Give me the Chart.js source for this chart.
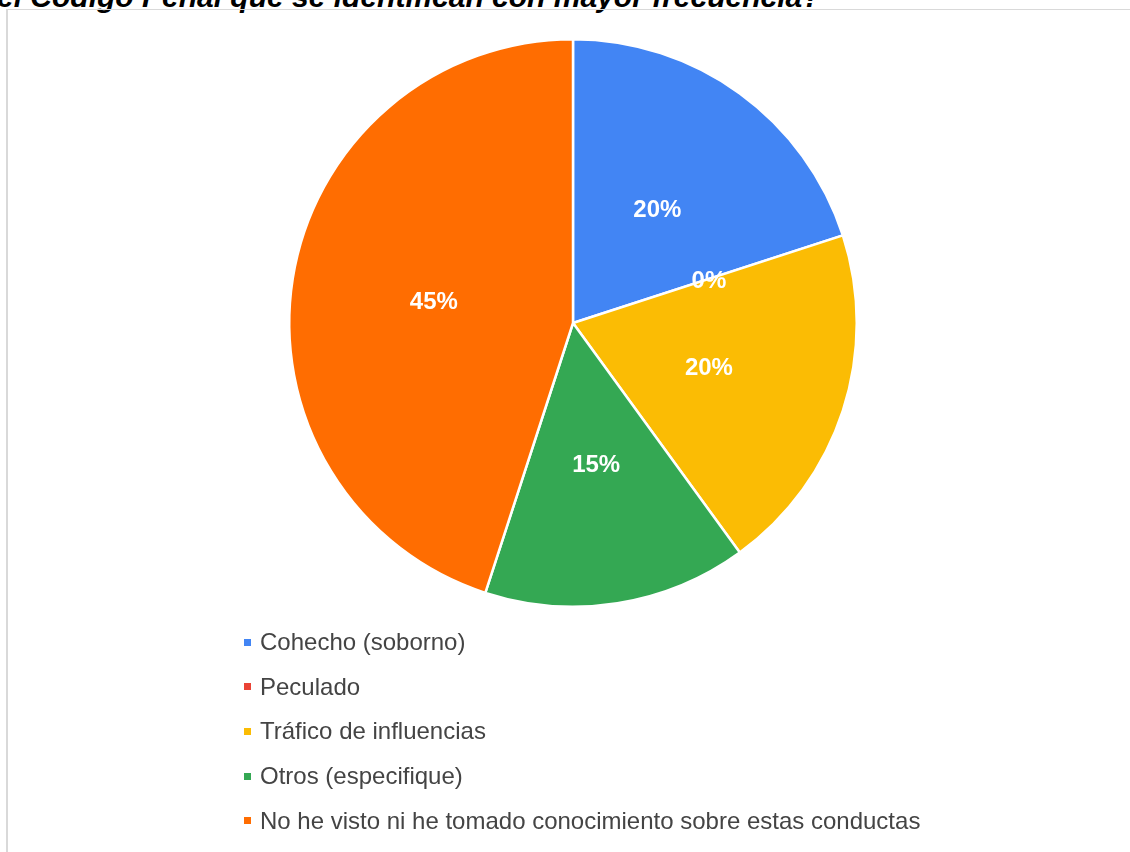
<!DOCTYPE html>
<html>
<head>
<meta charset="utf-8">
<script src="https://cdn.jsdelivr.net/npm/chart.js@4/dist/chart.umd.min.js"></script>
<style>
  html, body { margin: 0; padding: 0; background: #fff; }
  body { width: 1130px; height: 852px; position: relative; overflow: hidden; font-family: "Liberation Sans", Arial, sans-serif; }
  #title {
    position: absolute; left: -3px; top: -18px; white-space: nowrap;
    font: italic bold 30px/30px "Liberation Sans", Arial, sans-serif; color: #000;
  }
  #frame {
    position: absolute; left: 6px; top: 9px; width: 1200px; height: 900px;
    border-left: 2px solid #d9d9d9; border-top: 1px solid #d9d9d9;
  }
  #wrap { position: absolute; left: 0; top: 0; width: 1130px; height: 852px; }
  #legend { position: absolute; left: 244px; top: 620px; margin: 0; padding: 0; list-style: none; }
  #legend li { height: 44.6px; display: flex; align-items: center; font-size: 24px; color: #444; }
  #legend span.box { width: 7px; height: 7px; margin-right: 9px; display: inline-block; }
</style>
</head>
<body>
<div id="title">el Código Penal que se identifican con mayor frecuencia?</div>
<div id="frame"></div>
<div id="wrap"><canvas id="myChart"></canvas></div>
<ul id="legend"></ul>
<script>
'use strict';

// Categories and shares (percent)
const categories = [
    'Cohecho (soborno)',
    'Peculado',
    'Tráfico de influencias',
    'Otros (especifique)',
    'No he visto ni he tomado conocimiento sobre estas conductas'
];
const shares = [20, 0, 20, 15, 45];
const sliceColors = ['#4285F4', '#EA4335', '#FBBC04', '#34A853', '#FF6D01'];

// Writes the percentage in the middle of every slice
const sliceLabels = {
    id: 'sliceLabels',
    afterDatasetsDraw(chart) {
        const ctx = chart.ctx;
        const meta = chart.getDatasetMeta(0);
        const values = chart.data.datasets[0].data;
        ctx.save();
        ctx.font = 'bold 24px "Liberation Sans", Arial, sans-serif';
        ctx.fillStyle = '#ffffff';
        ctx.textAlign = 'center';
        ctx.textBaseline = 'middle';
        meta.data.forEach((arc, i) => {
            const pos = arc.tooltipPosition();
            ctx.fillText(values[i] + '%', pos.x + 1, pos.y + 2);
        });
        ctx.restore();
    }
};

// Builds the vertical legend list from the chart's own labels and colours
function buildLegend(chart) {
    const list = document.getElementById('legend');
    list.innerHTML = '';
    chart.data.labels.forEach((label, i) => {
        const li = document.createElement('li');
        const box = document.createElement('span');
        box.className = 'box';
        box.style.background = chart.data.datasets[0].backgroundColor[i];
        li.appendChild(box);
        li.appendChild(document.createTextNode(label));
        list.appendChild(li);
    });
}

function setupChart() {
    const ctx = document.getElementById('myChart').getContext('2d');
    const chart = new Chart(ctx, {
        type: 'pie',
        data: {
            labels: categories,
            datasets: [{
                data: shares,
                backgroundColor: sliceColors,
                borderColor: '#ffffff',
                borderWidth: 2.5
            }]
        },
        options: {
            responsive: true,
            maintainAspectRatio: false,
            animation: false,
            layout: {
                padding: { top: 38, bottom: 244, left: 288, right: 272 }
            },
            plugins: {
                legend: { display: false },
                tooltip: { enabled: false }
            }
        },
        plugins: [sliceLabels]
    });
    buildLegend(chart);
}

window.onload = setupChart;
</script>
</body>
</html>
